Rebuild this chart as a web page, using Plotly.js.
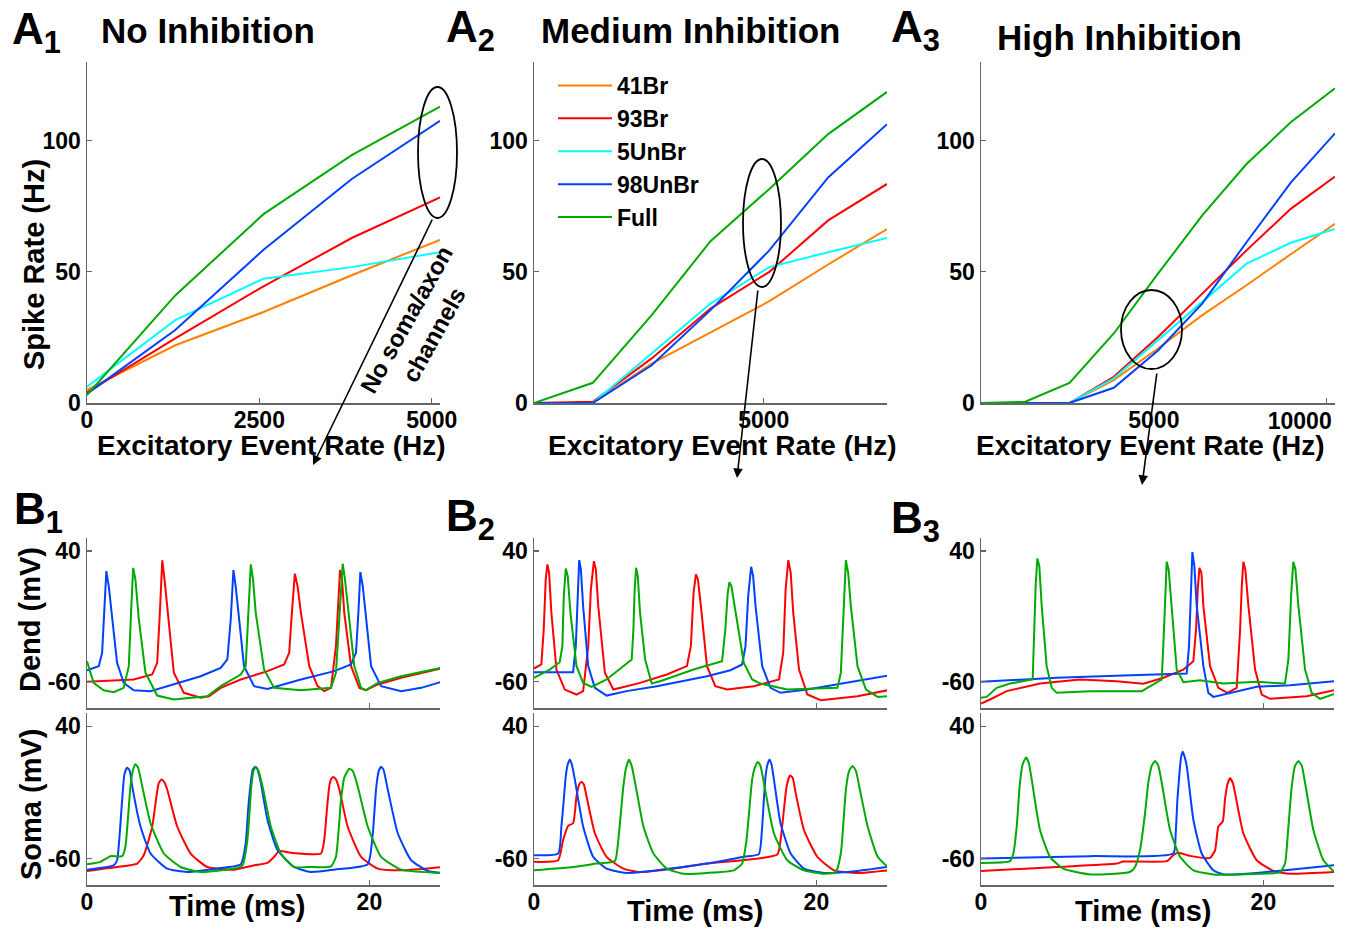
<!DOCTYPE html>
<html>
<head>
<meta charset="utf-8">
<script src="https://cdn.plot.ly/plotly-3.0.1.min.js"></script>
<style>html,body{margin:0;padding:0;background:#fff;}#chart{width:1348px;height:933px;}</style>
</head>
<body>
<div id="chart"></div>
<script>
// ---------------- Data: spike rate vs excitatory event rate ----------------
const seriesNames = ['41Br', '93Br', '5UnBr', '98UnBr', 'Full'];
const seriesColors = ['#ff8000', '#ff0000', '#00ffff', '#0040ff', '#00aa00'];

const rateNoInh = [0, 1280, 2560, 3840, 5120];
const br41NoInh = [5, 22, 34.7, 48.7, 62.2];
const br93NoInh = [4, 24.6, 44.5, 62.9, 78.4];
const unbr5NoInh = [6.2, 31.6, 47.4, 51.8, 57.5];
const unbr98NoInh = [3.5, 27.8, 58.4, 85.4, 107.6];
const fullNoInh = [3, 41, 72, 94.5, 113];

const rateMedInh = [0, 1280, 2560, 3840, 5120, 6400, 7680];
const br41MedInh = [0, 0, 15, 27, 38.8, 52.8, 66.3];
const br93MedInh = [0, 0.5, 17, 36, 50, 69.6, 83.5];
const unbr5MedInh = [0, 0, 18.9, 37.9, 51.8, 57.5, 62.9];
const unbr98MedInh = [0, 0, 14.4, 35.4, 58.2, 86, 106.3];
const fullMedInh = [0, 7.7, 33.5, 61.7, 81.6, 102.5, 118.6];

const rateHighInh = [0, 1280, 2560, 3840, 5120, 6400, 7680, 8960, 10240];
const br41HighInh = [0, 0, 0, 8.7, 20.8, 33.5, 44.9, 56.7, 68.3];
const br93HighInh = [0, 0, 0, 10, 25.2, 41.7, 58.2, 74, 86.3];
const unbr5HighInh = [0, 0, 0, 9.4, 24, 38.5, 53.1, 61.1, 66.4];
const unbr98HighInh = [0, 0, 0, 5.8, 20, 37.9, 61.3, 84, 102.8];
const fullHighInh = [0, 0.5, 7.7, 26.5, 49.3, 71.5, 91.1, 107, 120];

// ---------------- Data: voltage traces (time ms, voltage mV) ----------------
// B1 dendrite
const b1DendBlueT = [0,0.83,1.07,1.23,1.37,1.54,1.78,2.13,2.6,3.31,4.5,6.15,8.05,9.47,9.94,10.18,10.37,10.53,10.77,11.12,11.83,12.78,15.15,17.51,18.7,19.05,19.22,19.36,19.53,19.76,20.12,20.83,22.25,23.67,25.09];
const b1DendBlueV = [-51.1,-48,-37.8,-7.2,24.7,13.2,-12.3,-45.5,-60.8,-66.4,-67.1,-62,-55.7,-49.3,-42.9,-12.3,25.5,13.2,-12.3,-48,-63.3,-65.4,-58.2,-51.8,-46.7,-37.8,-7.2,23.9,13.2,-12.3,-48,-63.3,-67.1,-64.6,-60];
const b1DendGreenT = [0,0.47,1.18,1.89,2.6,2.96,3.12,3.27,3.43,3.67,4.14,4.97,6.15,8.52,9.47,10.89,11.24,11.41,11.6,11.76,11.95,12.54,13.25,15.15,17.28,17.63,17.87,18.11,18.27,18.46,18.93,19.41,19.76,20.59,22.25,25.09];
const b1DendGreenV = [-44.2,-60.8,-66.4,-67.9,-64.6,-48,-7.2,27.2,18.3,-12.3,-53.1,-70.5,-73.5,-71,-63.3,-54.4,-48,-7.2,29.8,18.3,-7.2,-50.6,-64.6,-66.4,-64.6,-53.1,-7.2,30.3,18.3,-2.1,-48,-64.6,-66.4,-60.8,-55.7,-49.3];
const b1DendRedT = [0,3.31,4.62,4.97,5.16,5.33,5.49,5.68,6.15,6.86,8.05,8.64,9.47,10.89,12.78,13.96,14.32,14.51,14.72,14.91,15.15,15.74,16.33,16.8,17.28,17.63,17.75,17.92,18.06,18.22,18.7,19.29,19.76,20.59,22.25,25.09];
const b1DendRedV = [-60,-58.2,-54.4,-45.5,-7.2,32.9,18.3,-2.1,-53.1,-68.4,-72.2,-71,-64.6,-58.2,-51.8,-46.7,-37.8,-7.2,22.7,13.2,-7.2,-48,-63.3,-67.1,-64.6,-32.7,-7.2,25.5,18.3,-7.2,-48,-64.6,-66.4,-62,-56.9,-49.8];
// B1 soma
const b1SomaBlueT = [0,1.89,2.13,2.32,2.49,2.65,2.84,3.03,3.2,3.79,4.5,5.68,7.1,9.23,10.89,11.24,11.41,11.6,11.74,11.91,12.07,12.31,12.78,13.49,14.67,15.86,17.51,19.88,20.24,20.47,20.66,20.83,20.99,21.3,22.01,22.96,24.14,25.09];
const b1SomaBlueV = [-68.4,-65.1,-61.3,-40.9,-15.5,3.6,8.7,6.2,-5.3,-35.8,-56.2,-67.6,-70.2,-67.6,-64.3,-48.5,-23.1,-2.7,7.4,9.2,7.4,-2.7,-30.7,-53.6,-66.4,-70.2,-68.4,-64.3,-40.9,-7.8,6.2,9.2,7.4,-7.8,-40.9,-61.3,-69.4,-70.9];
const b1SomaGreenT = [0,0.95,1.66,2.49,2.72,2.91,3.08,3.24,3.43,3.62,3.91,4.5,5.44,6.63,8.05,10.41,11.01,11.36,11.64,11.79,11.95,12.12,12.43,13.02,13.73,14.67,15.62,17.28,17.63,17.99,18.22,18.58,18.82,19.17,19.88,20.83,22.25,25.09];
const b1SomaGreenV = [-64.3,-62.5,-58.2,-58.2,-51.1,-28.2,-5.3,6.2,11.2,8.7,-5.3,-33.3,-56.2,-66.4,-70.2,-67.6,-65.1,-46,-5.3,6.2,9.2,6.9,-5.3,-35.8,-56.2,-66.4,-66.4,-65.9,-58.7,-15.5,1.1,7.9,6.2,-5.3,-35.8,-58.7,-68.4,-70.9];
const b1SomaRedT = [0,2.13,3.55,4.02,4.62,4.92,5.09,5.28,5.47,5.68,6.39,7.34,8.52,10.41,11.83,12.78,13.25,13.61,14.44,16.57,16.8,16.99,17.16,17.28,17.44,17.63,17.87,18.46,19.41,20.59,22.25,25.09];
const b1SomaRedV = [-69.4,-66.4,-63.8,-57.5,-35.8,-12.9,-2.7,-0.2,-2.2,-7.8,-35.8,-56.2,-66.4,-68.4,-65.1,-63.3,-58.7,-54.4,-55.7,-56.2,-46,-23.1,-5.3,-0.2,1.6,-0.2,-7.8,-35.8,-58.7,-67.6,-68.9,-66.4];
// B2 dendrite
const b2DendRedT = [0,0.52,0.69,0.83,0.95,1.07,1.23,1.59,2.18,3.01,3.48,3.84,4.03,4.24,4.38,4.55,5.02,5.62,6.56,7.51,9.41,10.83,11.11,11.3,11.47,11.61,11.82,12.25,12.84,13.67,15.57,17.35,17.65,17.82,18.01,18.18,18.36,18.77,19.36,20.31,22.91,25.05];
const b2DendRedV = [-49.8,-46.7,-20,18.3,29.8,23.4,-7.2,-50.6,-65.9,-69.7,-67.1,-32.7,10.7,32.3,26,-2.1,-53.1,-65.9,-63.3,-60.8,-54.4,-48,-32.7,8.1,22.1,18.3,-2.1,-48,-63.3,-65.9,-63.3,-58.2,-37.8,10.7,33.1,23.4,-7.2,-50.6,-69.7,-74,-71,-66.4];
const b2DendGreenT = [0,1.11,1.82,2.01,2.11,2.25,2.39,2.58,3.01,3.48,4.08,5.14,6.92,7.04,7.13,7.23,7.35,7.51,7.87,8.34,8.93,11.3,13.32,13.55,13.72,13.84,13.98,14.27,14.86,15.45,16.04,17.94,21.49,21.73,21.9,22.09,22.25,22.44,22.91,23.51,24.34,25.05];
const b2DendGreenV = [-56.9,-50.6,-45,-32.7,5.6,26.7,20.9,-7.2,-48,-60.8,-63.8,-58.2,-42.9,-20,10.7,27.2,20.9,-7.2,-42.9,-61.3,-59.5,-50.6,-44.2,-20,8.1,16.3,13.2,-7.2,-45.5,-58.2,-61.3,-65.9,-64.6,-53.1,-7.2,33.1,23.4,-2.1,-48,-65.9,-71.5,-71];
const b2DendBlueT = [0,2.77,2.96,3.08,3.2,3.32,3.48,3.84,4.31,5.14,6.56,8.7,12.25,13.91,14.74,14.98,15.17,15.38,15.52,15.69,16.16,16.75,17.46,19.36,21.73,25.05];
const b2DendBlueV = [-52.6,-52.6,-32.7,5.6,33.1,26,-2.1,-48,-64.6,-70.5,-67.1,-63.3,-55.7,-51.1,-46.7,-32.7,5.6,28,20.9,-2.1,-48,-64.6,-68.4,-65.9,-61.3,-55.2];
// B2 soma
const b2SomaBlueT = [0,1.71,1.94,2.11,2.25,2.39,2.54,2.68,2.89,3.48,4.19,5.14,6.56,8.7,12.25,14.86,15.92,16.16,16.28,16.4,16.54,16.68,16.82,16.99,17.46,18.18,19.12,20.55,22.91,25.05];
const b2SomaBlueV = [-57.5,-56.2,-35.8,-15.5,2.3,11.2,14.6,11.2,-0.2,-35.8,-58.7,-67.6,-70.9,-68.9,-63.8,-58.7,-56.7,-35.8,-15.5,2.3,11.2,14.6,11.2,-0.2,-33.3,-56.2,-67.6,-70.9,-69.4,-66.4];
const b2SomaRedT = [0,1.71,2.06,2.42,2.77,3.01,3.2,3.36,3.53,3.72,4.31,5.14,6.33,7.51,9.88,12.25,17.23,17.46,17.7,17.89,18.13,18.32,18.53,19.12,20.07,21.26,22.91,25.05];
const b2SomaRedV = [-62.5,-61.3,-46,-35.3,-33.3,-12.9,-4,-2.2,-4,-12.9,-40.9,-58.7,-67.6,-70.2,-67.6,-63.8,-57,-46,-23.1,-5.3,2.8,1.1,-10.4,-38.4,-58.7,-68.9,-70.9,-68.9];
const b2SomaGreenT = [0,2.77,4.43,5.73,5.97,6.33,6.52,6.73,6.92,7.16,7.75,8.46,9.41,10.59,12.25,14.15,14.74,15.05,15.45,15.64,15.85,16.04,16.28,16.99,17.94,19.12,20.55,21.37,21.73,22.09,22.32,22.56,22.8,23.03,23.63,24.34,25.05];
const b2SomaGreenV = [-68.9,-66.4,-63.8,-61.8,-46,-5.3,8.7,14.6,10,-2.7,-35.8,-56.2,-67.6,-71.5,-70.9,-68.9,-63.8,-46,-0.2,8.7,13,10,-2.7,-40.9,-61.3,-68.9,-71.5,-70.2,-56.2,-7.8,6.2,10,6.2,-5.3,-35.8,-58.7,-66.4];
// B3 dendrite
const b3DendGreenT = [0,0.4,1.11,2.05,3.66,3.78,3.87,3.99,4.13,4.3,4.65,5.01,5.36,7.72,11.38,12.21,12.8,12.96,13.06,13.15,13.29,13.51,13.86,14.33,15.51,17.17,19.53,21.53,21.77,21.96,22.12,22.27,22.48,22.95,23.42,24.01,25.03];
const b3DendGreenV = [-72.2,-71.5,-64.6,-61.3,-58.2,-20,13.2,34.4,28.5,-2.1,-48,-64.6,-68.4,-67.1,-67.1,-62,-58.2,-20,13.2,31.8,26,-2.1,-50.6,-60.3,-58.7,-61.3,-60,-61.3,-42.9,5.6,31.8,26,-2.1,-50.6,-68.4,-73,-69.2];
const b3DendRedT = [0,0.64,1.82,4.18,7.01,9.61,11.5,12.92,14.33,15.04,15.23,15.35,15.47,15.61,15.75,16.22,16.81,17.45,18.11,18.35,18.47,18.58,18.72,18.94,19.41,19.88,20.47,23.07,25.03];
const b3DendRedV = [-76.6,-73.5,-67.1,-61.3,-58.2,-59.5,-61.5,-56.9,-50.6,-44.2,-20,10.7,27.2,23.4,-2.1,-48,-64.6,-68.4,-64.6,-20,13.2,31.8,26,-2.1,-50.6,-69.7,-73,-71,-66.4];
const b3DendBlueT = [0,5.36,10.08,14.57,14.73,14.85,14.97,15.11,15.28,15.75,16.1,16.46,18.35,19.53,21.89,25.03];
const b3DendBlueV = [-60,-56.9,-55.2,-53.6,-32.7,10.7,39.2,28.5,-2.1,-48,-68.4,-71.5,-67.1,-63.8,-62.6,-59.5];
// B3 soma
const b3SomaGreenT = [0,2.05,2.29,2.53,2.76,2.95,3.19,3.38,3.59,4.18,4.89,5.83,7.72,10.55,10.91,11.26,11.62,11.85,12.09,12.33,12.56,12.8,13.39,14.1,15.04,16.46,18.35,21.18,21.53,21.77,22.01,22.24,22.48,22.72,22.95,23.54,24.25,25.03];
const b3SomaGreenV = [-63.3,-62,-56.2,-35.8,-2.7,11.2,16.3,12.5,-0.2,-38.4,-58.7,-67.6,-72,-70.2,-66.4,-53.6,-25.6,-2.7,10,13.8,10,-2.7,-38.4,-58.7,-68.9,-72,-72,-70.2,-63.8,-35.8,-5.3,10,13.8,10,-2.7,-38.4,-61.3,-70.2];
const b3SomaBlueT = [0,7.72,13.62,13.79,13.91,14.1,14.19,14.29,14.4,14.57,15.04,15.63,16.46,17.17,19.53,21.89,25.03];
const b3SomaBlueV = [-60,-58.2,-56.2,-40.9,-15.5,10,17.6,20.7,17.6,10,-30.7,-56.2,-68.9,-72,-70.9,-68.4,-65.1];
const b3SomaRedT = [0,5.36,9.61,10.08,13.15,13.62,13.98,14.8,16.22,16.58,16.81,17.12,17.28,17.45,17.64,17.83,17.99,18.58,19.53,20.71,21.89,25.03];
const b3SomaRedV = [-69.4,-66.4,-63.8,-62.3,-62,-57.5,-55.7,-58,-59.5,-53.6,-35.8,-32,-15.5,-4,0.6,-2.7,-10.4,-40.9,-61.3,-69.4,-71.5,-70.2];

// ---------------- Tick labels ----------------
const rateTicksNoInh = [0, 2500, 5000];
const rateTextNoInh = ['0', '2500', '5000'];
const rateTicksMedInh = [5000];
const rateTextMedInh = ['5000'];
const rateTicksHighInh = [5000, 10000];
const rateTextHighInh = ['5000', ''];
const rateTicksHighEnd = [10000];
const rateTextHighEnd = ['10000'];
const spikeTicks = [0, 50, 100];
const spikeTickText = ['0', '50', '100'];
const timeTicks = [0, 20];
const timeTickText = ['0', '20'];
const voltTicks = [-60, 40];
const voltTickText = ['-60', '40'];

// ---------------- Layout helpers ----------------
const W = 1348, H = 933;
const PX = x => x / W;
const PY = y => 1 - y / H;
const FONT = 'Liberation Sans, Arial, Helvetica, sans-serif';
const AX = '#666666';
const RED = '#ff0000', GREEN = '#00aa00', BLUE = '#0040ff';
const bold = (size) => ({family: FONT, size: size, color: '#000', weight: 'bold'});

function baseAxis(extra, isX) {
  return Object.assign({
    showline: true, linecolor: AX, linewidth: 1.5, mirror: false,
    showgrid: false, zeroline: false,
    ticks: 'inside', ticklen: 5, tickwidth: 1.2, tickcolor: AX,
    tickfont: bold(23), ticklabelstandoff: isX ? -4 : 0,
    fixedrange: true
  }, extra);
}

const traces = [];
function addRate(xs, ys, idx, xa, ya, showLeg) {
  traces.push({
    type: 'scatter', mode: 'lines', x: xs, y: ys, name: seriesNames[idx],
    xaxis: xa, yaxis: ya, showlegend: showLeg, legendgroup: seriesNames[idx],
    line: {color: seriesColors[idx], width: 2}, hoverinfo: 'skip'
  });
}
[[br41NoInh,0],[br93NoInh,1],[unbr5NoInh,2],[unbr98NoInh,3],[fullNoInh,4]].forEach(p => addRate(rateNoInh, p[0], p[1], 'x', 'y', true));
[[br41MedInh,0],[br93MedInh,1],[unbr5MedInh,2],[unbr98MedInh,3],[fullMedInh,4]].forEach(p => addRate(rateMedInh, p[0], p[1], 'x2', 'y2', false));
[[br41HighInh,0],[br93HighInh,1],[unbr5HighInh,2],[unbr98HighInh,3]].forEach(p => addRate(rateHighInh, p[0], p[1], 'x3', 'y3', false));
// the Full curve of panel A3 is drawn through an overlaying x axis with identical range (carries the 10000 label)
addRate(rateHighInh, fullHighInh, 4, 'x10', 'y3', false);

function addV(t, v, color, xa, ya, smooth) {
  traces.push({
    type: 'scatter', mode: 'lines', x: t, y: v, xaxis: xa, yaxis: ya, showlegend: false,
    line: smooth ? {color: color, width: 2, shape: 'spline', smoothing: 0.5} : {color: color, width: 2},
    hoverinfo: 'skip'
  });
}
addV(b1DendRedT, b1DendRedV, RED, 'x4', 'y4', false);
addV(b1DendBlueT, b1DendBlueV, BLUE, 'x4', 'y4', false);
addV(b1DendGreenT, b1DendGreenV, GREEN, 'x4', 'y4', false);
addV(b2DendRedT, b2DendRedV, RED, 'x5', 'y5', false);
addV(b2DendBlueT, b2DendBlueV, BLUE, 'x5', 'y5', false);
addV(b2DendGreenT, b2DendGreenV, GREEN, 'x5', 'y5', false);
addV(b3DendRedT, b3DendRedV, RED, 'x6', 'y6', false);
addV(b3DendBlueT, b3DendBlueV, BLUE, 'x6', 'y6', false);
addV(b3DendGreenT, b3DendGreenV, GREEN, 'x6', 'y6', false);
addV(b1SomaRedT, b1SomaRedV, RED, 'x7', 'y7', true);
addV(b1SomaBlueT, b1SomaBlueV, BLUE, 'x7', 'y7', true);
addV(b1SomaGreenT, b1SomaGreenV, GREEN, 'x7', 'y7', true);
addV(b2SomaRedT, b2SomaRedV, RED, 'x8', 'y8', true);
addV(b2SomaBlueT, b2SomaBlueV, BLUE, 'x8', 'y8', true);
addV(b2SomaGreenT, b2SomaGreenV, GREEN, 'x8', 'y8', true);
addV(b3SomaRedT, b3SomaRedV, RED, 'x9', 'y9', true);
addV(b3SomaBlueT, b3SomaBlueV, BLUE, 'x9', 'y9', true);
addV(b3SomaGreenT, b3SomaGreenV, GREEN, 'x9', 'y9', true);

const colX = [[87, 440], [534, 887], [981, 1335]];
const aY = [PY(403), PY(62)];
const dY = [PY(708), PY(538)];
const sY = [PY(885), PY(713)];
const dom = c => [PX(colX[c][0]), PX(colX[c][1])];
const domB3 = [PX(981), PX(1334)];

const layout = {
  width: W, height: H, margin: {l: 0, r: 0, t: 0, b: 0},
  paper_bgcolor: '#fff', plot_bgcolor: 'rgba(0,0,0,0)',
  font: bold(20),
  showlegend: true,
  legend: {x: PX(553), y: PY(64), xanchor: 'left', yanchor: 'top', bgcolor: 'rgba(0,0,0,0)',
           font: bold(23), itemwidth: 54, tracegroupgap: 0},
  xaxis:  baseAxis({domain: dom(0), anchor: 'y',  range: [0, 5120],  tickvals: rateTicksNoInh, ticktext: rateTextNoInh}, true),
  yaxis:  baseAxis({domain: aY, anchor: 'x',  range: [0, 130], tickvals: spikeTicks, ticktext: spikeTickText}),
  xaxis2: baseAxis({domain: dom(1), anchor: 'y2', range: [0, 7680],  tickvals: rateTicksMedInh, ticktext: rateTextMedInh}, true),
  yaxis2: baseAxis({domain: aY, anchor: 'x2', range: [0, 130], tickvals: spikeTicks, ticktext: spikeTickText}),
  xaxis3: baseAxis({domain: dom(2), anchor: 'y3', range: [0, 10240], tickvals: rateTicksHighInh, ticktext: rateTextHighInh}, true),
  yaxis3: baseAxis({domain: aY, anchor: 'x3', range: [0, 130], tickvals: spikeTicks, ticktext: spikeTickText}),
  xaxis10: baseAxis({domain: dom(2), anchor: 'y3', overlaying: 'x3', range: [0, 10240],
                     tickvals: rateTicksHighEnd, ticktext: rateTextHighEnd, ticks: '', showline: false,
                     ticklabelshift: -27, ticklabelstandoff: 2, ticklabeloverflow: 'allow'}),
  xaxis4: baseAxis({domain: dom(0), anchor: 'y4', range: [0, 25], tickvals: timeTicks, showticklabels: false}, true),
  yaxis4: baseAxis({domain: dY, anchor: 'x4', range: [-80, 50], tickvals: voltTicks, ticktext: voltTickText}),
  xaxis5: baseAxis({domain: dom(1), anchor: 'y5', range: [0, 25], tickvals: timeTicks, showticklabels: false}, true),
  yaxis5: baseAxis({domain: dY, anchor: 'x5', range: [-80, 50], tickvals: voltTicks, ticktext: voltTickText}),
  xaxis6: baseAxis({domain: domB3, anchor: 'y6', range: [0, 25], tickvals: timeTicks, showticklabels: false}, true),
  yaxis6: baseAxis({domain: dY, anchor: 'x6', range: [-80, 50], tickvals: voltTicks, ticktext: voltTickText}),
  xaxis7: baseAxis({domain: dom(0), anchor: 'y7', range: [0, 25], tickvals: timeTicks, ticktext: timeTickText}, true),
  yaxis7: baseAxis({domain: sY, anchor: 'x7', range: [-80, 50], tickvals: voltTicks, ticktext: voltTickText}),
  xaxis8: baseAxis({domain: dom(1), anchor: 'y8', range: [0, 25], tickvals: timeTicks, ticktext: timeTickText}, true),
  yaxis8: baseAxis({domain: sY, anchor: 'x8', range: [-80, 50], tickvals: voltTicks, ticktext: voltTickText}),
  xaxis9: baseAxis({domain: domB3, anchor: 'y9', range: [0, 25], tickvals: timeTicks, ticktext: timeTickText}, true),
  yaxis9: baseAxis({domain: sY, anchor: 'x9', range: [-80, 50], tickvals: voltTicks, ticktext: voltTickText}),
  shapes: [
    {type: 'circle', xref: 'paper', yref: 'paper', x0: PX(418), x1: PX(457), y0: PY(218), y1: PY(87), line: {color: '#000', width: 1.8}},
    {type: 'circle', xref: 'paper', yref: 'paper', x0: PX(743), x1: PX(781), y0: PY(287), y1: PY(159), line: {color: '#000', width: 1.8}},
    {type: 'circle', xref: 'paper', yref: 'paper', x0: PX(1121), x1: PX(1182), y0: PY(369), y1: PY(290), line: {color: '#000', width: 1.8}}
  ],
  annotations: []
};

function txt(text, x, y, size, opts) {
  layout.annotations.push(Object.assign({
    text: text, x: PX(x), y: PY(y), xref: 'paper', yref: 'paper',
    xanchor: 'center', yanchor: 'middle', showarrow: false,
    font: bold(size)
  }, opts || {}));
}
// panel letters
txt('A<sub>1</sub>', 10, 2, 44, {xanchor: 'left', yanchor: 'top'});
txt('A<sub>2</sub>', 444, 0, 44, {xanchor: 'left', yanchor: 'top'});
txt('A<sub>3</sub>', 889, 0, 44, {xanchor: 'left', yanchor: 'top'});
txt('B<sub>1</sub>', 12, 482, 44, {xanchor: 'left', yanchor: 'top'});
txt('B<sub>2</sub>', 444, 489, 44, {xanchor: 'left', yanchor: 'top'});
txt('B<sub>3</sub>', 889, 491, 44, {xanchor: 'left', yanchor: 'top'});
// titles
txt('No Inhibition', 208, 30, 35);
txt('Medium Inhibition', 690, 30, 35);
txt('High Inhibition', 1119, 37, 35);
// axis titles
txt('Spike Rate (Hz)', 34, 265, 29, {textangle: -90});
txt('Excitatory Event Rate (Hz)', 271, 445, 28);
txt('Excitatory Event Rate (Hz)', 723, 445, 28);
txt('Excitatory Event Rate (Hz)', 1150, 445, 28);
txt('Dend (mV)', 30, 620, 29, {textangle: -90});
txt('Soma (mV)', 31, 805, 29, {textangle: -90});
txt('Time (ms)', 237, 906, 29);
txt('Time (ms)', 695, 911, 29);
txt('Time (ms)', 1143, 911, 29);
// rotated note
txt('No soma/axon<br>channels', 420, 327, 24, {textangle: -61});
// arrows
function arrow(x0, y0, x1, y1) {
  layout.annotations.push({
    x: PX(x1), y: PY(y1), xref: 'paper', yref: 'paper', text: '', showarrow: true,
    ax: x0 - x1, ay: y0 - y1, axref: 'pixel', ayref: 'pixel',
    arrowhead: 2, arrowsize: 1.2, arrowwidth: 1.6, arrowcolor: '#000'
  });
}
arrow(433, 218, 313, 465);
arrow(758, 289, 737, 478);
arrow(1157, 372, 1142, 485);

Plotly.newPlot('chart', traces, layout, {staticPlot: true, displayModeBar: false});
</script>
</body>
</html>
